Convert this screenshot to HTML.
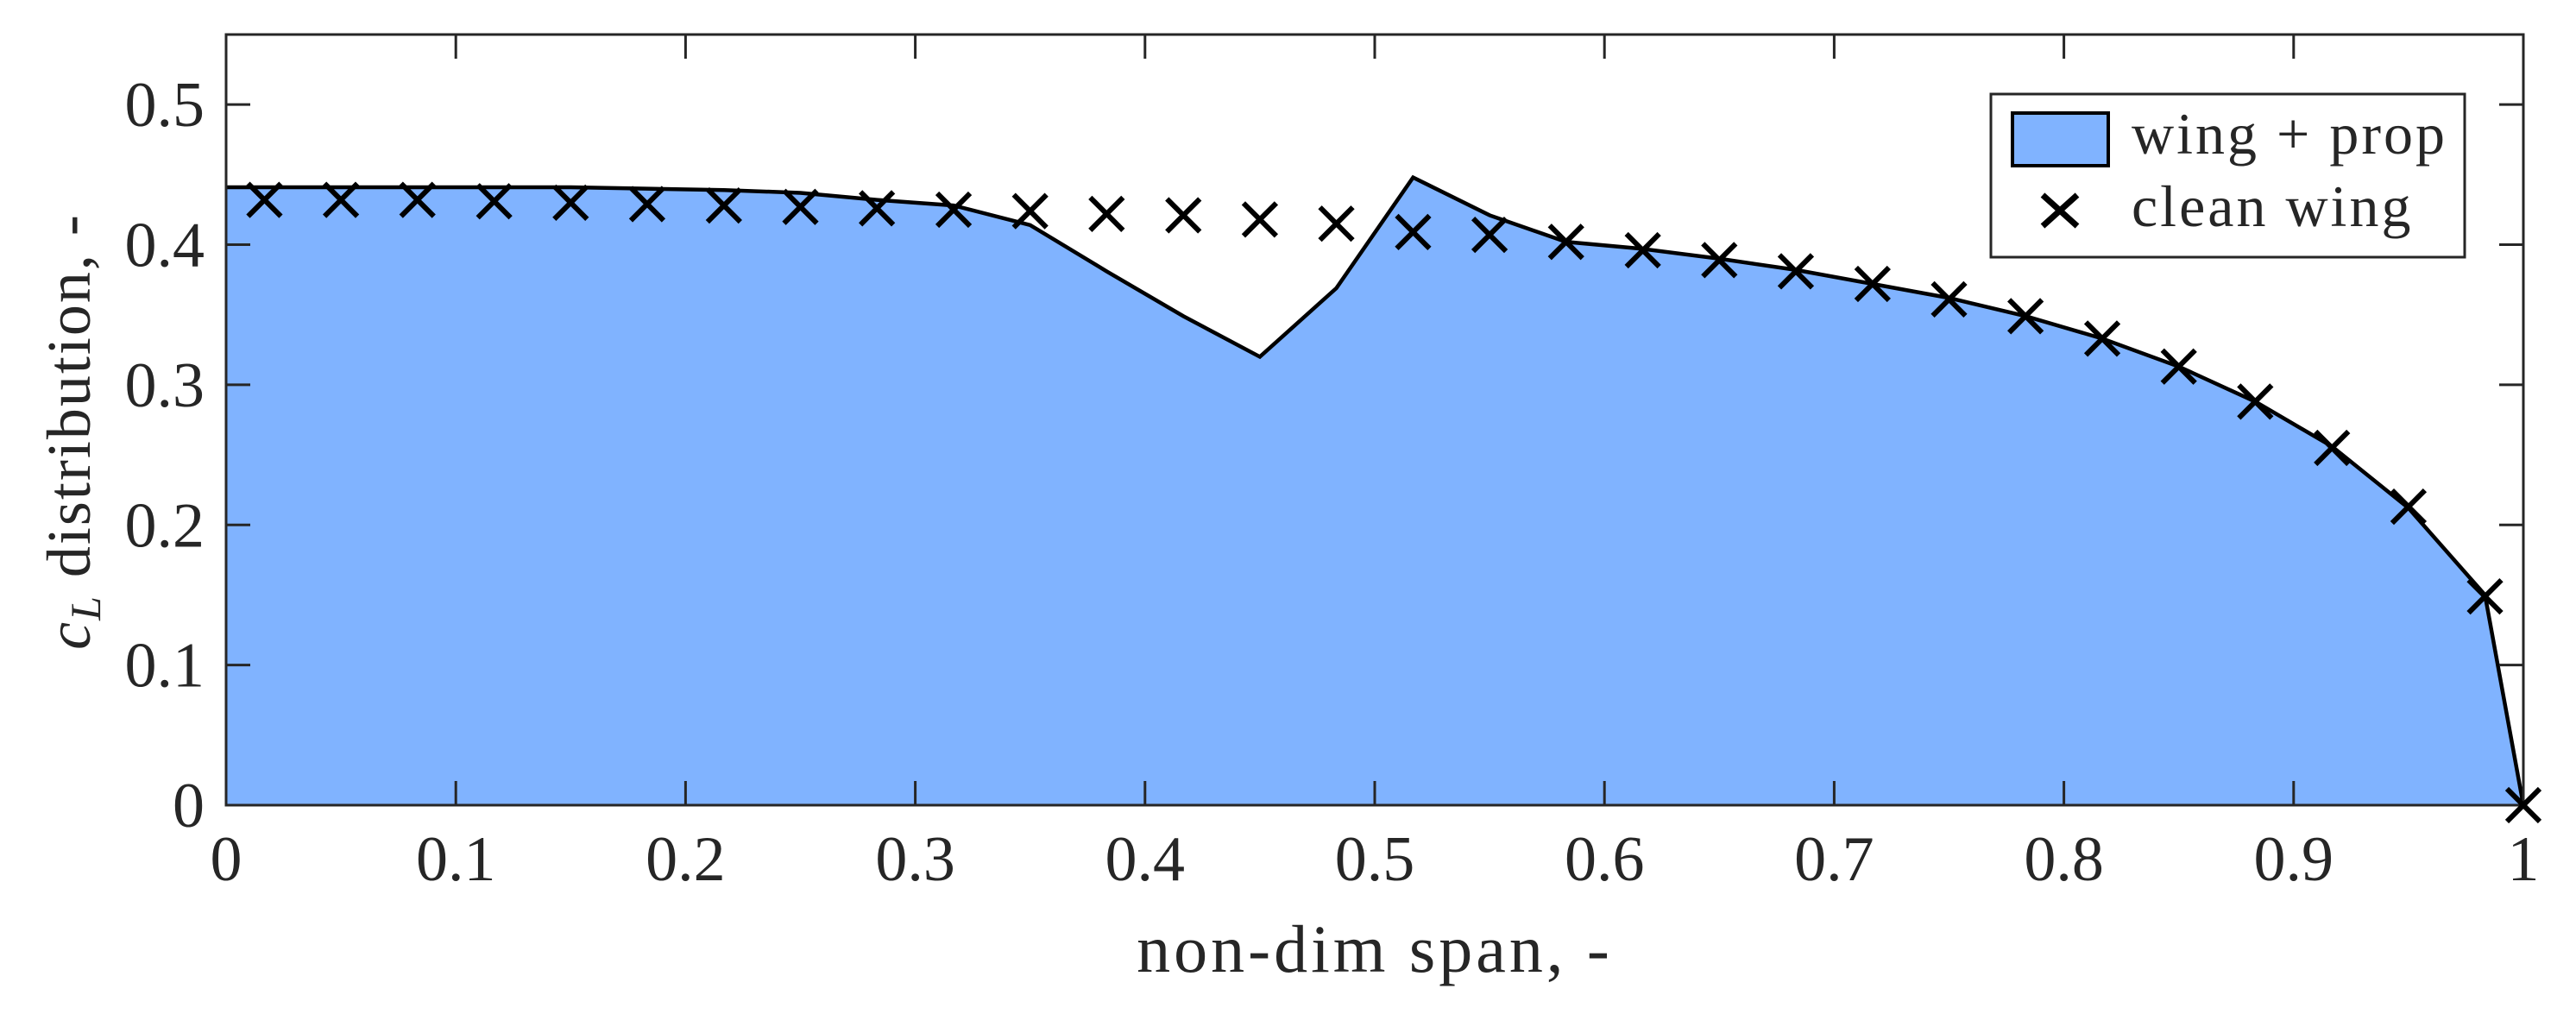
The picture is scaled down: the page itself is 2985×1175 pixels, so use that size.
<!DOCTYPE html>
<html><head><meta charset="utf-8"><style>
html,body{margin:0;padding:0;background:#fff;}
svg{display:block;}
text{font-family:"Liberation Serif",serif;fill:#262626;}
</style></head><body>
<svg id="chart" width="2985" height="1175" viewBox="0 0 2985 1175" xmlns="http://www.w3.org/2000/svg">
<g id="fillLayer"></g>
<g id="axes"></g>
<g id="marks"></g>
<g>
<rect x="2307" y="109" width="549" height="189" fill="#fff" stroke="#262626" stroke-width="3"/>
<rect x="2332" y="131" width="111" height="61" fill="#80b3ff" stroke="#000" stroke-width="4"/>
<text x="2470" y="178" font-size="68" letter-spacing="3">wing + prop</text>
<path d="M2367 226 L2407 262 M2367 262 L2407 226" stroke="#000" stroke-width="7"/>
<text x="2470" y="262" font-size="68" letter-spacing="3">clean wing</text>
</g>
<text x="1593" y="1126" font-size="78" letter-spacing="4" text-anchor="middle">non-dim span, -</text>
<text transform="translate(104,500) rotate(-90)" font-size="72" letter-spacing="2" text-anchor="middle"><tspan font-style="italic">c</tspan><tspan font-style="italic" font-size="50" dy="12">L</tspan><tspan dy="-12"> distribution, -</tspan></text>
</svg>
<script>
const spanProp = [0, 0.0167,0.05,0.0833,0.1167,0.15,0.1833,0.2167,0.25,0.2833,0.3167,0.35,0.3833,0.4167,0.45,0.4833,0.5167,0.55,0.5833,0.6167,0.65,0.6833,0.7167,0.75,0.7833,0.8167,0.85,0.8833,0.9167,0.95,0.9833,1];
const clProp = [0.441,0.441,0.441,0.441,0.441,0.441,0.440,0.439,0.437,0.432,0.428,0.414,0.381,0.349,0.320,0.369,0.448,0.421,0.402,0.397,0.390,0.382,0.372,0.362,0.349,0.333,0.313,0.288,0.256,0.212,0.150,0];
const spanClean = [0.0167,0.05,0.0833,0.1167,0.15,0.1833,0.2167,0.25,0.2833,0.3167,0.35,0.3833,0.4167,0.45,0.4833,0.5167,0.55,0.5833,0.6167,0.65,0.6833,0.7167,0.75,0.7833,0.8167,0.85,0.8833,0.9167,0.95,0.9833,1];
const clClean = [0.432,0.432,0.432,0.431,0.430,0.429,0.428,0.427,0.426,0.425,0.424,0.422,0.421,0.418,0.415,0.409,0.407,0.402,0.396,0.389,0.381,0.372,0.361,0.349,0.333,0.313,0.288,0.255,0.213,0.149,0];
const xTicks = [0,0.1,0.2,0.3,0.4,0.5,0.6,0.7,0.8,0.9,1];
const xTickLabels = ["0","0.1","0.2","0.3","0.4","0.5","0.6","0.7","0.8","0.9","1"];
const yTicks = [0,0.1,0.2,0.3,0.4,0.5];
const yTickLabels = ["0","0.1","0.2","0.3","0.4","0.5"];

const L=262,R=2924,T=40,B=933,YMAX=0.55;
const sx=v=>L+v*(R-L);
const sy=v=>B-v/YMAX*(B-T);
const NS="http://www.w3.org/2000/svg";
function mk(tag,parent){const e=document.createElementNS(NS,tag);parent.appendChild(e);return e;}
const fillLayer=document.getElementById('fillLayer');
const axes=document.getElementById('axes');
const marks=document.getElementById('marks');

let pts=spanProp.map((x,i)=>sx(x)+','+sy(clProp[i]));
const area=mk('polygon',fillLayer);


area.setAttribute('points',sx(0)+','+sy(0)+' '+pts.join(' ')+' '+sx(1)+','+sy(0));
area.setAttribute('fill','#80b3ff');
const line=mk('polyline',fillLayer);


line.setAttribute('points',pts.join(' '));
line.setAttribute('fill','none');line.setAttribute('stroke','#000');line.setAttribute('stroke-width','4.5');

const frame=mk('rect',axes);


frame.setAttribute('x',L);frame.setAttribute('y',T);frame.setAttribute('width',R-L);frame.setAttribute('height',B-T);
frame.setAttribute('fill','none');frame.setAttribute('stroke','#262626');frame.setAttribute('stroke-width','3');

xTicks.forEach((v,i)=>{
  const x=sx(v);
  const t=mk('path',axes);
  
  
  t.setAttribute('d',`M${x} ${B} V${B-28} M${x} ${T} V${T+28}`);
  t.setAttribute('stroke','#262626');t.setAttribute('stroke-width','3');
  const l=mk('text',axes);
  
  
  l.setAttribute('x',x);l.setAttribute('y',1020);l.setAttribute('font-size','74');l.setAttribute('text-anchor','middle');
  l.textContent=xTickLabels[i];
});
yTicks.forEach((v,i)=>{
  const y=sy(v);
  const t=mk('path',axes);
  
  
  t.setAttribute('d',`M${L} ${y} H${L+28} M${R} ${y} H${R-28}`);
  t.setAttribute('stroke','#262626');t.setAttribute('stroke-width','3');
  const l=mk('text',axes);
  
  
  l.setAttribute('x',237);l.setAttribute('y',y+25);l.setAttribute('font-size','74');l.setAttribute('text-anchor','end');
  l.textContent=yTickLabels[i];
});

spanClean.forEach((v,i)=>{
  const x=sx(v),y=sy(clClean[i]),d=19;
  const m=mk('path',marks);
  
  
  m.setAttribute('d',`M${x-d} ${y-d} L${x+d} ${y+d} M${x-d} ${y+d} L${x+d} ${y-d}`);
  m.setAttribute('stroke','#000');m.setAttribute('stroke-width','6');
});
</script>
</body></html>
